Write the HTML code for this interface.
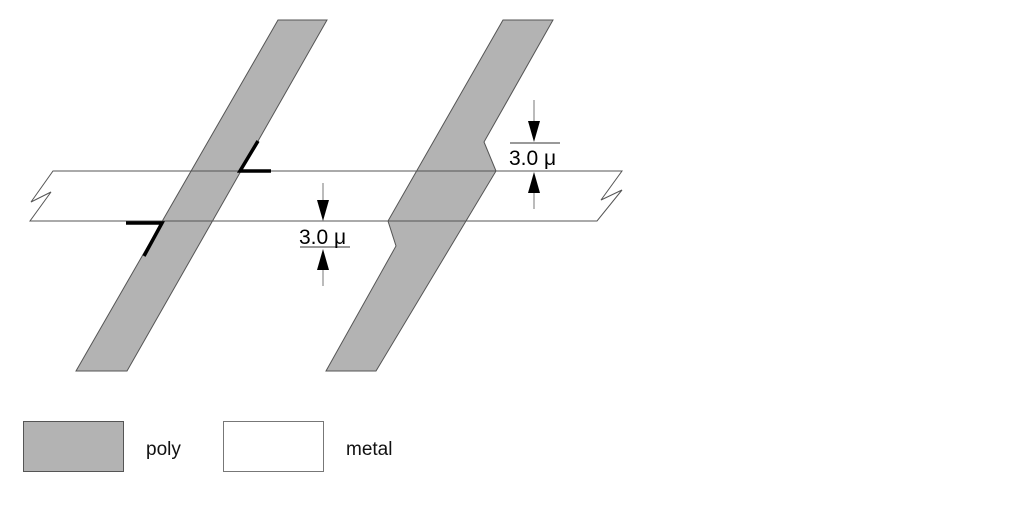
<!DOCTYPE html>
<html><head><style>html,body{margin:0;padding:0;background:#fff;width:1025px;height:505px;overflow:hidden}</style></head>
<body>
<svg width="1025" height="505" viewBox="0 0 1025 505" xmlns="http://www.w3.org/2000/svg" font-family="Liberation Sans, sans-serif">
<rect width="1025" height="505" fill="#fff"/>
<polygon points="53,171 622,171 601,200 622,190 597,221 30,221 51,192 31,202" fill="#fff"/>
<polygon points="278,20 327,20 127,371 76,371" fill="#b3b3b3" stroke="#555" stroke-width="1"/>
<polygon points="503,20 553,20 484,142 496,171 376,371 326,371 396,246 388,221" fill="#b3b3b3" stroke="#555" stroke-width="1"/>
<polygon points="53,171 622,171 601,200 622,190 597,221 30,221 51,192 31,202" fill="none" stroke="#555" stroke-width="1"/>
<g stroke="#000" stroke-width="3.5" fill="none">
<polyline points="258,141 240,171 271,171"/>
<polyline points="126,223 162,223 144,256"/>
</g>
<g stroke="#777" stroke-width="1">
<line x1="323" y1="183" x2="323" y2="205"/>
<line x1="323" y1="265" x2="323" y2="286"/>
<line x1="300" y1="247" x2="350" y2="247" stroke="#333"/>
<line x1="534" y1="100" x2="534" y2="122"/>
<line x1="534" y1="190" x2="534" y2="209"/>
<line x1="510" y1="143" x2="560" y2="143" stroke="#333"/>
</g>
<g fill="#000">
<polygon points="317,200 329,200 323,221"/>
<polygon points="317,270 329,270 323,249"/>
<polygon points="528,121 540,121 534,142"/>
<polygon points="528,193 540,193 534,172"/>
</g>
<text x="299" y="244" font-size="21" fill="#000">3.0 μ</text>
<text x="509" y="165" font-size="21" fill="#000">3.0 μ</text>
<rect x="23.5" y="421.5" width="100" height="50" fill="#b3b3b3" stroke="#555"/>
<rect x="223.5" y="421.5" width="100" height="50" fill="#fff" stroke="#777"/>
<text x="146" y="455" font-size="19" fill="#111">poly</text>
<text x="346" y="455" font-size="19" fill="#111">metal</text>
</svg>
</body></html>
